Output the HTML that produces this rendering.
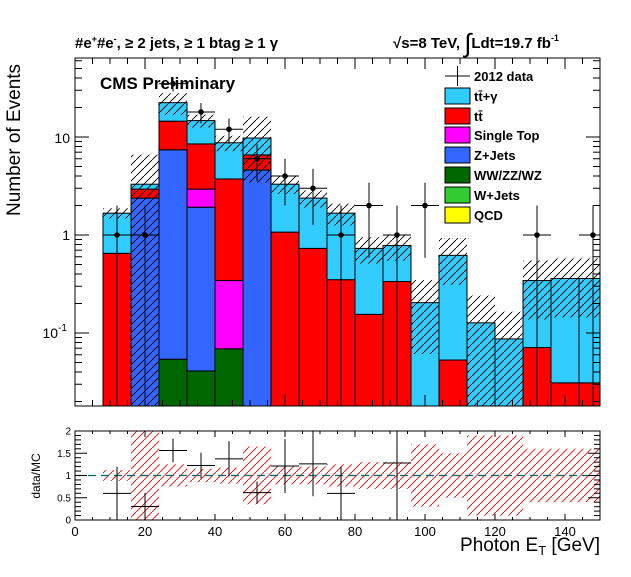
<!DOCTYPE html>
<html><head><meta charset="utf-8">
<style>
html,body{margin:0;padding:0;background:#fff;}
svg text{font-family:"Liberation Sans",sans-serif;}
</style></head>
<body>
<svg id="c" width="631" height="572" viewBox="0 0 631 572" xmlns="http://www.w3.org/2000/svg">
<defs>
<pattern id="hb" patternUnits="userSpaceOnUse" width="8" height="8"><path d="M-1,9 L9,-1" stroke="#000" stroke-width="0.9"/></pattern>
<pattern id="hr" patternUnits="userSpaceOnUse" width="8" height="8"><path d="M-1,9 L9,-1" stroke="#f00" stroke-width="0.9"/></pattern>
<clipPath id="cm"><rect x="75" y="58" width="525" height="348"/></clipPath>
<clipPath id="cr"><rect x="75" y="431" width="525" height="89"/></clipPath>
</defs>
<g id="main" clip-path="url(#cm)"></g>
<g id="ratio" clip-path="url(#cr)"></g>
<g id="axes"></g>
</svg>
<script>
const binLow = [8,16,24,32,40,48,56,64,72,80,88,96,104,112,120,128,136,144];
const ww    = [0,0,0.054,0.041,0.069,0,0,0,0,0,0,0,0,0,0,0,0,0];
const zjets = [0,2.38,7.35,1.88,0,4.6,0,0,0,0,0,0,0,0,0,0,0,0];
const stop  = [0,0,0,1.02,0.274,0,0,0,0,0,0,0,0,0,0,0,0,0];
const ttbar = [0.65,0.56,7.1,5.56,3.39,1.96,1.07,0.73,0.35,0.155,0.335,0,0.053,0,0,0.071,0.031,0.031];
const ttgam = [1.02,0.36,7.9,6.2,5.0,3.2,2.23,1.65,1.32,0.575,0.445,0.204,0.567,0.127,0.087,0.272,0.329,0.329];
const dataN = [1,1,35,18,12,6,4,3,1,2,1,2,0,0,0,1,0,1];
const relUnc = [0.12,1.0,0.25,0.15,0.18,0.65,0.2,0.2,0.25,0.3,0.3,0.7,0.5,0.9,0.9,0.6,0.6,0.6];
const xTicks = [0,20,40,60,80,100,120,140];
const ratioTicks = [0,0.5,1,1.5,2];

const NS='http://www.w3.org/2000/svg';
const BW=8;
function X(v){return 75+v*3.5;}
function Y(v){return 235-98*Math.log10(v);}
function R(v){return 520-v*44.5;}
function el(t,a,p){const e=document.createElementNS(NS,t);for(const k in a)e.setAttribute(k,a[k]);p.appendChild(e);return e;}
const gm=document.getElementById('main'),gr=document.getElementById('ratio'),ga=document.getElementById('axes');
const comps=[[ww,'#006600','ww-zz-wz'],[zjets,'#3366ff','z-jets'],[stop,'#ff00ff','single-top'],[ttbar,'#ff0000','ttbar'],[ttgam,'#33ccff','ttgamma']];
for(let i=0;i<binLow.length;i++){
  let cum=0;
  for(const [arr,col,nm] of comps){
    const v=arr[i]; if(v<=0) continue;
    const lo=cum,hi=cum+v; cum=hi;
    const y1=Y(hi),y0=lo>0?Y(lo):420;
    const r=el('rect',{x:X(binLow[i]),y:y1,width:BW*3.5,height:y0-y1,fill:col,stroke:'#000','stroke-width':1},gm);
    
    
  }
  const tot=cum, u=relUnc[i];
  const yt=Y(tot*(1+u)), yb=(1-u)>0.01?Y(tot*(1-u)):420;
  const h=el('rect',{x:X(binLow[i]),y:yt,width:BW*3.5,height:yb-yt,fill:'url(#hb)'},gm);
  
  
  const rb=el('rect',{x:X(binLow[i]),y:R(1+u),width:BW*3.5,height:R(Math.max(0,1-u))-R(1+u),fill:'url(#hr)'},gr);
  
  
}
const dl=el('line',{x1:75,x2:600,y1:R(1),y2:R(1),stroke:'#006666','stroke-width':1.2,'stroke-dasharray':'8,5'},gr);


for(let i=0;i<binLow.length;i++){
  const n=dataN[i]; if(n<=0) continue;
  const cx=X(binLow[i]+BW/2), e=Math.sqrt(n);
  const g=el('g',{},gm);
  
  
  const yc=Y(n);
  el('line',{x1:X(binLow[i]),x2:X(binLow[i]+BW),y1:yc,y2:yc,stroke:'#000','stroke-width':1},g);
  el('line',{x1:cx,x2:cx,y1:Y(n+e),y2:(n-e)>0.001?Y(n-e):420,stroke:'#000','stroke-width':1},g);
  el('circle',{cx:cx,cy:yc,r:2.8,fill:'#000'},g);
  const mc=ww[i]+zjets[i]+stop[i]+ttbar[i]+ttgam[i];
  const rv=n/mc, re=e/mc;
  if(rv<=2.05){
    const rg=el('g',{},gr);
    
    
    el('line',{x1:X(binLow[i]),x2:X(binLow[i]+BW),y1:R(rv),y2:R(rv),stroke:'#000','stroke-width':1},rg);
    el('line',{x1:cx,x2:cx,y1:R(rv+re),y2:R(Math.max(0,rv-re)),stroke:'#000','stroke-width':1},rg);
  }
}
for(const [y0,y1,nm] of [[58,406,'main-frame'],[431,520,'ratio-frame']]){
  const f=el('rect',{x:75,y:y0,width:525,height:y1-y0,fill:'none',stroke:'#000','stroke-width':1},ga);
  
  
}
for(let v=0;v<=150;v+=5){
  const maj=v%20===0, x=X(v);
  el('line',{x1:x,x2:x,y1:406,y2:406-(maj?11:6),stroke:'#000'},ga);
  el('line',{x1:x,x2:x,y1:58,y2:58+(maj?11:6),stroke:'#000'},ga);
  el('line',{x1:x,x2:x,y1:520,y2:520-(maj?6:3),stroke:'#000'},ga);
  el('line',{x1:x,x2:x,y1:431,y2:431+(maj?6:3),stroke:'#000'},ga);
}
for(const v of xTicks){
  const t=el('text',{x:X(v),y:536,'font-size':13,'text-anchor':'middle'},ga);
  t.textContent=v;
  
  
}
for(let d=-2;d<=1;d++){
  for(let m=1;m<10;m++){
    const v=m*Math.pow(10,d), y=Y(v);
    if(y<58||y>406) continue;
    const L=m===1?14:7;
    el('line',{x1:75,x2:75+L,y1:y,y2:y,stroke:'#000'},ga);
    el('line',{x1:600,x2:600-L,y1:y,y2:y,stroke:'#000'},ga);
  }
}
const yl=[['10',138],['1',235]];
for(const [s,y] of yl){
  const t=el('text',{x:70,y:y+5,'font-size':14,'text-anchor':'end'},ga);t.textContent=s;
  
  
}
{const t=el('text',{x:67,y:338,'font-size':14,'text-anchor':'end'},ga);t.innerHTML='10<tspan font-size="10" dy="-7">-1</tspan>';
 
 }
for(let v=0;v<=2;v+=0.1){
  const y=R(v), maj=Math.abs(v*2-Math.round(v*2))<1e-6;
  el('line',{x1:75,x2:75+(maj?12:6),y1:y,y2:y,stroke:'#000'},ga);
  el('line',{x1:600,x2:600-(maj?12:6),y1:y,y2:y,stroke:'#000'},ga);
}
for(const v of ratioTicks){
  const t=el('text',{x:71,y:R(v)+3.5,'font-size':10,'text-anchor':'end'},ga);t.textContent=v;
  
  
}
</script>
<svg width="631" height="572" style="position:absolute;left:0;top:0" xmlns="http://www.w3.org/2000/svg">
<text x="75" y="48" font-size="15" font-weight="bold" font-family="Liberation Sans">#e<tspan font-size="9" dy="-6">+</tspan><tspan dy="6">#e</tspan><tspan font-size="9" dy="-6">-</tspan><tspan dy="6">, ≥ 2 jets, ≥ 1 btag ≥ 1 γ</tspan></text>
<text x="393" y="48" font-size="15" font-weight="bold" font-family="Liberation Sans">√s=8 TeV,  <tspan font-size="26" font-weight="normal" dy="4">∫</tspan><tspan dy="-4">Ldt=19.7 fb</tspan><tspan font-size="9" dy="-7">-1</tspan></text>
<text x="100" y="89" font-size="17" font-weight="bold" font-family="Liberation Sans">CMS Preliminary</text>
<text transform="translate(20,140) rotate(-90)" font-size="19" text-anchor="middle" font-family="Liberation Sans">Number of Events</text>
<text transform="translate(40,476) rotate(-90)" font-size="12" text-anchor="middle" font-family="Liberation Sans">data/MC</text>
<text x="600" y="551" font-size="19" text-anchor="end" font-family="Liberation Sans">Photon E<tspan font-size="13" dy="4">T</tspan><tspan dy="-4"> [GeV]</tspan></text>
<g font-family="Liberation Sans" font-size="13" font-weight="bold">
 <g><line x1="445" x2="470" y1="76" y2="76" stroke="#000"/><line x1="457.5" x2="457.5" y1="66" y2="86" stroke="#000"/><text x="474" y="81">2012 data</text></g>
 <g><rect x="445" y="88" width="25" height="16" fill="#33ccff" stroke="#000"/><text x="474" y="101">tt̄+γ</text></g>
 <g><rect x="445" y="108" width="25" height="16" fill="#ff0000" stroke="#000"/><text x="474" y="121">tt̄</text></g>
 <g><rect x="445" y="127" width="25" height="16" fill="#ff00ff" stroke="#000"/><text x="474" y="140">Single Top</text></g>
 <g><rect x="445" y="147" width="25" height="16" fill="#3366ff" stroke="#000"/><text x="474" y="160">Z+Jets</text></g>
 <g><rect x="445" y="167" width="25" height="16" fill="#006600" stroke="#000"/><text x="474" y="180">WW/ZZ/WZ</text></g>
 <g><rect x="445" y="187" width="25" height="16" fill="#33cc33" stroke="#000"/><text x="474" y="200">W+Jets</text></g>
 <g><rect x="445" y="207" width="25" height="16" fill="#ffff00" stroke="#000"/><text x="474" y="220">QCD</text></g>
</g>
</svg>
</body></html>
